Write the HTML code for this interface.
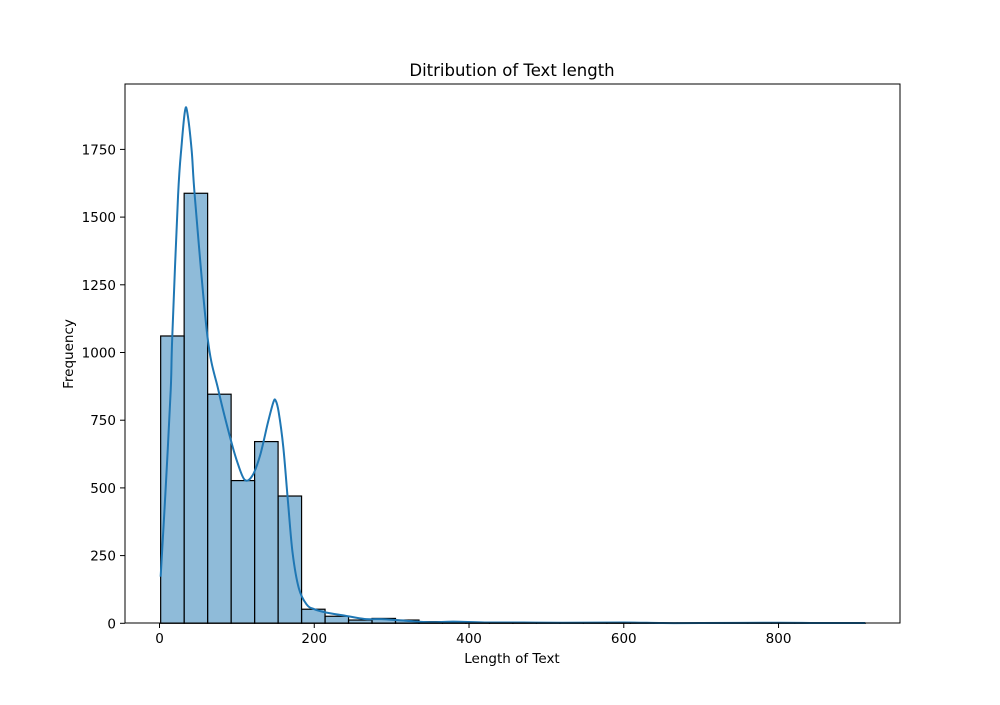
<!DOCTYPE html>
<html><head><meta charset="utf-8"><style>
body{margin:0;background:#fff}
svg text{font-family:"DejaVu Sans","Liberation Sans",sans-serif;fill:#000}
</style></head><body>
<svg id="chart" width="1000" height="700" viewBox="0 0 1000 700">
<rect width="1000" height="700" fill="#fff"/>
<g id="bars"></g>
<path id="kde" fill="none" stroke="#1f77b4" stroke-width="2"/>
<rect x="125" y="84" width="775" height="539" fill="none" stroke="#000" stroke-width="1"/>
<g id="xticks"></g>
<g id="yticks"></g>
<text x="512" y="76" font-size="16.5" text-anchor="middle">Ditribution of Text length</text>
<text x="512" y="663" font-size="13.5" text-anchor="middle">Length of Text</text>
<text transform="translate(73,354) rotate(-90)" font-size="13.5" text-anchor="middle">Frequency</text>
</svg>
<script>
const binStart = 1.5;
const binWidth = 30.35;
const counts = [1061,1588,846,527,671,470,52,26,12,18,12,6,4,3,2,2,1,1,1,2,2,1,1,1,1,1,1,1,1,1];
const kdeX = [1.5,8,14.5,16.5,24,28.7,33,36,41.6,46,62,76,90,100,110,120,130,140,147,150,154,160,166,172,180,190,200,215,240,265,290,320,350,380,420,470,520,600,650,700,800,850,912];
const kdeY = [172,500,862,1058,1580,1770,1893,1885,1745,1563,1058,862,700,600,530,545,620,740,815,823,780,650,450,260,130,70,52,40,28,16,15,9,4,6,3,3,2,3,1,1,2,1,1];
const xTicks = [0,200,400,600,800];
const yTicks = [0,250,500,750,1000,1250,1500,1750];

const X = u => 159.5 + u*0.7738;
const Y = v => 623.3 - v*0.2708;
const NS = "http://www.w3.org/2000/svg";
const bars = document.getElementById('bars');
counts.forEach((c,i)=>{
  const x0 = X(binStart+i*binWidth), x1 = X(binStart+(i+1)*binWidth);
  const r = document.createElementNS(NS,'rect');
  r.setAttribute('x',x0); r.setAttribute('width',x1-x0);
  r.setAttribute('y',Y(c)); r.setAttribute('height',Y(0)-Y(c));
  r.setAttribute('fill','rgba(31,119,180,0.5)'); r.setAttribute('stroke','#000'); r.setAttribute('stroke-width','1.2');
  
  
  bars.appendChild(r);
});
const pts = kdeX.map((u,i)=>[X(u),Y(kdeY[i])]);
let d = `M${pts[0][0]},${pts[0][1]}`;
for(let i=0;i<pts.length-1;i++){
  const p0=pts[Math.max(0,i-1)],p1=pts[i],p2=pts[i+1],p3=pts[Math.min(pts.length-1,i+2)];
  const c1=[p1[0]+(p2[0]-p0[0])/6,p1[1]+(p2[1]-p0[1])/6];
  const c2=[p2[0]-(p3[0]-p1[0])/6,p2[1]-(p3[1]-p1[1])/6];
  d+=` C${c1[0]},${c1[1]} ${c2[0]},${c2[1]} ${p2[0]},${p2[1]}`;
}
document.getElementById('kde').setAttribute('d',d);
const xg = document.getElementById('xticks');
xTicks.forEach(t=>{
  const l=document.createElementNS(NS,'line');
  l.setAttribute('x1',X(t));l.setAttribute('x2',X(t));l.setAttribute('y1',623);l.setAttribute('y2',628);l.setAttribute('stroke','#000');
  
  
  xg.appendChild(l);
  const tx=document.createElementNS(NS,'text');
  tx.setAttribute('x',X(t));tx.setAttribute('y',643);tx.setAttribute('font-size','13.5');tx.setAttribute('text-anchor','middle');
  tx.textContent=t;
  
  
  xg.appendChild(tx);
});
const yg = document.getElementById('yticks');
yTicks.forEach(t=>{
  const l=document.createElementNS(NS,'line');
  l.setAttribute('x1',120);l.setAttribute('x2',125);l.setAttribute('y1',Y(t));l.setAttribute('y2',Y(t));l.setAttribute('stroke','#000');
  
  
  yg.appendChild(l);
  const tx=document.createElementNS(NS,'text');
  tx.setAttribute('x',116);tx.setAttribute('y',Y(t)+5);tx.setAttribute('font-size','13.5');tx.setAttribute('text-anchor','end');
  tx.textContent=t;
  
  
  yg.appendChild(tx);
});
</script>
</body></html>
